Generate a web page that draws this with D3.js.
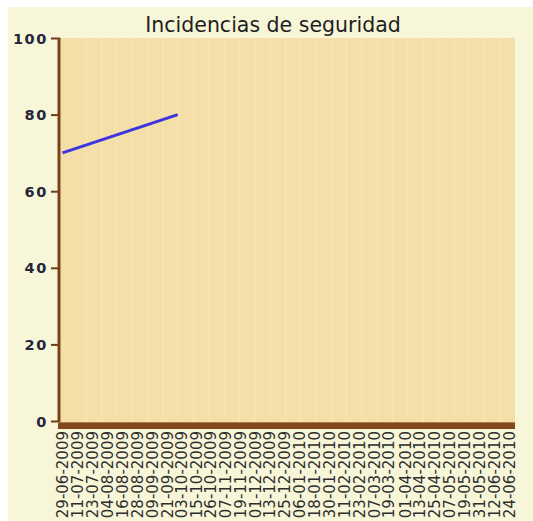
<!DOCTYPE html>
<html>
<head>
<meta charset="utf-8">
<script src="https://cdn.jsdelivr.net/npm/d3@7"></script>
<style>
  body { margin: 0; background: #ffffff; }
  text { font-family: "DejaVu Sans", Verdana, sans-serif; }
</style>
</head>
<body>
<div id="chart"></div>
<script>
  // data
  var tickDates = ["29-06-2009","11-07-2009","23-07-2009","04-08-2009","16-08-2009","28-08-2009",
    "09-09-2009","21-09-2009","03-10-2009","15-10-2009","26-10-2009","07-11-2009","19-11-2009",
    "01-12-2009","13-12-2009","25-12-2009","06-01-2010","18-01-2010","30-01-2010","11-02-2010",
    "23-02-2010","07-03-2010","19-03-2010","01-04-2010","13-04-2010","25-04-2010","07-05-2010",
    "19-05-2010","31-05-2010","12-06-2010","24-06-2010"];
  var serieDates = ["29-06-2009", "30-09-2009"];
  var serieValues = [70, 80];
  var yTicks = [0, 20, 40, 60, 80, 100];
  var xDomain = ["27-06-2009", "29-06-2010"];

  var W = 533, H = 521;
  var margin = {left: 60, right: 18, top: 38, bottom: 99};
  var width = W - margin.left - margin.right,
      height = H - margin.top - margin.bottom;

  var parse = d3.timeParse("%d-%m-%Y");

  var svg = d3.select("#chart").append("svg")
    .attr("width", W).attr("height", H);

  // outer panel
  svg.append("rect")
    .attr("x", 8).attr("y", 7)
    .attr("width", W - 8).attr("height", H - 7)
    .attr("fill", "#f8f6d9");

  svg.append("text")
    .attr("x", 273).attr("y", 32)
    .attr("text-anchor", "middle")
    .style("font-size", "20.5px")
    .attr("fill", "#1e1e1e")
    .text("Incidencias de seguridad");

  var g = svg.append("g")
    .attr("transform", "translate(" + margin.left + "," + margin.top + ")");

  var x = d3.scaleTime()
    .domain(xDomain.map(parse))
    .range([0, width]);
  var y = d3.scaleLinear()
    .domain([0, 100])
    .range([height - 1, 0]);

  // plot background
  g.append("rect")
    .attr("width", width).attr("height", height)
    .attr("fill", "#f5dfa8");

  // faint vertical bands
  var nBands = 29;
  g.selectAll(".grid")
    .data(d3.range(1, nBands))
    .enter().append("line")
    .attr("x1", function(d) { return 11 + d * (width - 11) / nBands; })
    .attr("x2", function(d) { return 11 + d * (width - 11) / nBands; })
    .attr("y1", 0).attr("y2", height)
    .attr("stroke", "#f7e3b3")
    .attr("stroke-width", 1.5);

  // y axis
  var yAxis = d3.axisLeft(y).tickValues(yTicks).tickSize(9).tickFormat(d3.format("d"));
  var ya = g.append("g").attr("class", "y axis").call(yAxis);
  ya.select(".domain").remove();
  ya.selectAll(".tick line").attr("stroke", "#6b3d1a").attr("stroke-width", 2);
  ya.selectAll(".tick text")
    .attr("x", -12)
    .attr("dy", "0.35em")
    .attr("fill", "#26263a")
    .style("font-size", "14.5px")
    .style("font-weight", "600")
    .style("letter-spacing", "1.6px");

  g.append("line")
    .attr("x1", -1).attr("x2", -1)
    .attr("y1", 0).attr("y2", height)
    .attr("stroke", "#7a4418")
    .attr("stroke-width", 3);

  // thick x axis bar
  g.append("rect")
    .attr("x", -2).attr("y", height)
    .attr("width", width + 2).attr("height", 7)
    .attr("fill", "#83481b");
  g.append("line")
    .attr("x1", -2).attr("x2", width)
    .attr("y1", height + 0.5).attr("y2", height + 0.5)
    .attr("stroke", "#b07a45").attr("stroke-width", 1);

  // x labels
  var xAxis = d3.axisBottom(x)
    .tickValues(tickDates.map(parse))
    .tickSize(0)
    .tickFormat(d3.timeFormat("%d-%m-%Y"));
  var xa = g.append("g")
    .attr("transform", "translate(0," + (height + 9) + ")")
    .call(xAxis);
  xa.select(".domain").remove();
  xa.selectAll(".tick text")
    .attr("transform", "rotate(-90)")
    .attr("x", 0).attr("y", 0)
    .attr("dy", "0.36em")
    .attr("text-anchor", "end")
    .attr("fill", "#2e2e2e")
    .style("font-size", "15px");

  // series
  var line = d3.line()
    .x(function(d) { return x(d.date); })
    .y(function(d) { return y(d.value); });
  var serie = serieDates.map(function(d, i) { return {date: parse(d), value: serieValues[i]}; });
  g.append("path")
    .datum(serie)
    .attr("d", line)
    .attr("fill", "none")
    .attr("stroke", "#3a35e0")
    .attr("stroke-width", 3);
</script>
</body>
</html>
